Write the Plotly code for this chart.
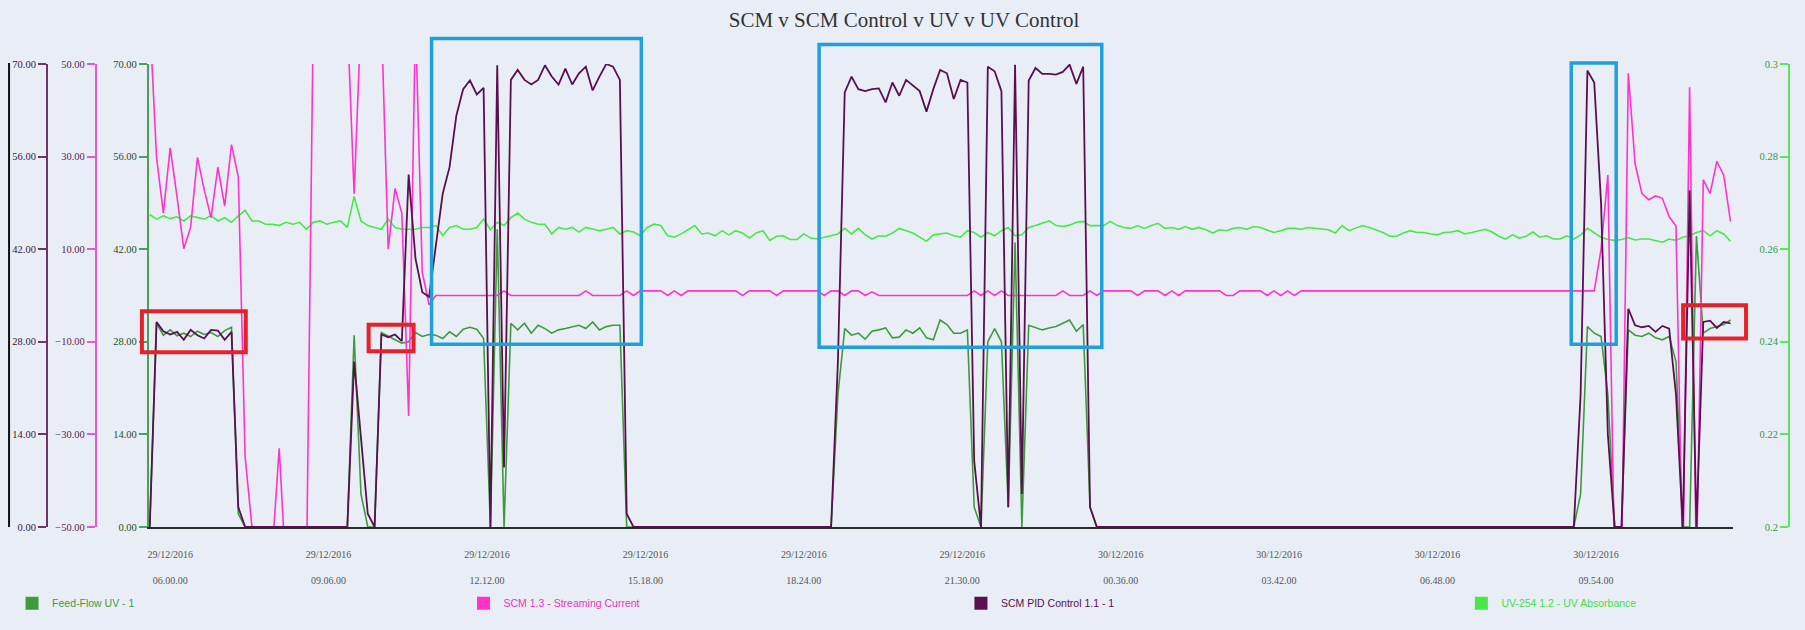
import pandas as pd
import plotly.graph_objects as go

# ---------------- data ----------------
START = "2016-12-29 05:36"
STEP_MIN = 8
N = 233

# SCM PID Control 1.1 - 1 (left purple axis 0..70)
pid = [
    0, 31.0, 29.6, 29.1, 29.5, 28.3, 29.8, 29.0, 28.5, 29.8,          # 0
    29.7, 28.3, 29.5, 3, 0, 0, 0, 0, 0, 0,                              # 10
    0, 0, 0, 0, 0, 0, 0, 0, 0, 0,                                       # 20
    25, 13, 2, 0, 29.1, 28.7, 29.1, 28.1, 53.3, 40.6,                   # 30
    35.5, 34.8, 43, 50.4, 54.4, 62.2, 66.2, 67.5, 65.4, 66.4,           # 40
    0, 69.8, 9, 67.6, 69.1, 67.6, 66.9, 67.6, 69.8, 68.1,               # 50
    66.9, 69.3, 66.9, 68.6, 69.6, 66.0, 68.1, 70.0, 69.6, 67.6,         # 60
    2, 0, 0, 0, 0, 0, 0, 0, 0, 0,                                       # 70
    0, 0, 0, 0, 0, 0, 0, 0, 0, 0,                                       # 80
    0, 0, 0, 0, 0, 0, 0, 0, 0, 0,                                       # 90
    0, 25, 65.7, 68.1, 66.2, 65.9, 66.2, 66.3, 64.2, 67.2,              # 100
    65.2, 67.6, 66.7, 65.9, 62.8, 66.2, 69.1, 68.6, 64.7, 67.6,         # 110
    67.2, 10, 0, 69.6, 68.9, 65.9, 3, 69.9, 5, 67.5,                    # 120
    69.4, 68.5, 68.5, 68.4, 68.8, 69.9, 67.0, 69.6, 3, 0,               # 130
    0, 0, 0, 0, 0, 0, 0, 0, 0, 0,                                       # 140
    0, 0, 0, 0, 0, 0, 0, 0, 0, 0,                                       # 150
    0, 0, 0, 0, 0, 0, 0, 0, 0, 0,                                       # 160
    0, 0, 0, 0, 0, 0, 0, 0, 0, 0,                                       # 170
    0, 0, 0, 0, 0, 0, 0, 0, 0, 0,                                       # 180
    0, 0, 0, 0, 0, 0, 0, 0, 0, 0,                                       # 190
    0, 0, 0, 0, 0, 0, 0, 0, 0, 0,                                       # 200
    20, 69.0, 67.2, 49, 14, 0, 0, 33.0, 30.5, 30.2,                     # 210
    30.4, 29.5, 30.4, 30.0, 20, 0, 50.9, 0, 31.0, 31.2,                 # 220
    30.1, 31.0, 30.8,                                                   # 230
]

# Feed-Flow UV - 1 (green axis 0..70)
feed = [
    0, 30.8, 29.0, 29.8, 28.9, 29.3, 28.8, 29.6, 29.1, 29.4,            # 0
    28.8, 29.7, 30.2, 2, 0, 0, 0, 0, 0, 0,                              # 10
    0, 0, 0, 0, 0, 0, 0, 0, 0, 0,                                       # 20
    29, 5, 0, 0, 29.4, 28.8, 28.3, 27.8, 28.0, 29.4,                    # 30
    28.8, 29.1, 29.0, 28.5, 29.5, 28.8, 29.9, 30.2, 29.9, 28.5,         # 40
    0, 45, 0, 30.8, 29.8, 30.8, 29.3, 30.5, 30.0, 29.3,                 # 50
    29.8, 30.0, 30.3, 30.5, 30.0, 31.0, 29.8, 30.3, 30.5, 30.5,         # 60
    0, 0, 0, 0, 0, 0, 0, 0, 0, 0,                                       # 70
    0, 0, 0, 0, 0, 0, 0, 0, 0, 0,                                       # 80
    0, 0, 0, 0, 0, 0, 0, 0, 0, 0,                                       # 90
    0, 20, 30.0, 29.0, 29.3, 28.4, 29.6, 29.8, 30.1, 28.6,              # 100
    28.7, 29.8, 29.3, 30.1, 28.6, 28.3, 31.3, 30.6, 29.3, 29.3,         # 110
    29.8, 3, 0, 28, 30.0, 28, 3, 43, 0, 30.5,                           # 120
    30.1, 29.8, 30.1, 30.3, 30.8, 31.3, 29.6, 30.6, 3, 0,               # 130
    0, 0, 0, 0, 0, 0, 0, 0, 0, 0,                                       # 140
    0, 0, 0, 0, 0, 0, 0, 0, 0, 0,                                       # 150
    0, 0, 0, 0, 0, 0, 0, 0, 0, 0,                                       # 160
    0, 0, 0, 0, 0, 0, 0, 0, 0, 0,                                       # 170
    0, 0, 0, 0, 0, 0, 0, 0, 0, 0,                                       # 180
    0, 0, 0, 0, 0, 0, 0, 0, 0, 0,                                       # 190
    0, 0, 0, 0, 0, 0, 0, 0, 0, 0,                                       # 200
    5, 30.3, 29.3, 28.8, 20, 0, 0, 29.8, 29.0, 28.8,                    # 210
    29.3, 28.6, 28.3, 28.8, 25, 0, 0, 44, 29.3, 30.0,                   # 220
    30.3, 30.6, 31.3,                                                   # 230
]

# SCM 1.3 - Streaming Current (pink axis -50..50)
scm = [
    60, 29.8, 17.8, 31.9, 21.4, 10.1, 14.7, 29.8, 22.8, 16.8,           # 0
    27.7, 19.3, 32.6, 25.6, -34.8, -50, -60, -60, -55, -33,             # 10
    -60, -60, -60, -60, 60, 60, 60, 60, 60, 60,                         # 20
    22, 60, 60, 60, 60, 10, 23.1, 17.8, -26, 60,                        # 30
    5, -2, 0, 0, 0, 0, 0, 0, 0, 0,                                      # 40
    0, 0, 1, 0, 0, 0, 0, 0, 0, 0,                                       # 50
    0, 0, 0, 0, 1, 0, 0, 0, 0, 0,                                       # 60
    1, 0, 1, 1, 1, 1, 0, 1, 0, 1,                                       # 70
    1, 1, 1, 1, 1, 1, 1, 0, 1, 1,                                       # 80
    1, 1, 0, 1, 1, 1, 1, 1, 1, 0,                                       # 90
    1, 1, 0, 1, 1, 0, 0.8, 0, 0, 0,                                     # 100
    0, 0, 0, 0, 0, 0, 0, 0, 0, 0,                                       # 110
    0, 1, 0, 1, 0, 1, 0, 0, 0, 0,                                       # 120
    0, 0, 0, 0, 1, 0, 0, 0, 1, 0,                                       # 130
    1, 1, 1, 1, 1, 0, 1, 1, 1, 0,                                       # 140
    1, 0, 1, 1, 1, 1, 1, 1, 0, 0,                                       # 150
    1, 1, 1, 1, 0, 1, 0, 1, 0, 1,                                       # 160
    1, 1, 1, 1, 1, 1, 1, 1, 1, 1,                                       # 170
    1, 1, 1, 1, 1, 1, 1, 1, 1, 1,                                       # 180
    1, 1, 1, 1, 1, 1, 1, 1, 1, 1,                                       # 190
    1, 1, 1, 1, 1, 1, 1, 1, 1, 1,                                       # 200
    1, 1, 1, 10, 26, -60, -60, 48, 28.4, 22,                            # 210
    20.7, 21.5, 21, 17, 15, -60, 45, -60, 25, 22,                       # 220
    29, 26, 16,                                                         # 230
]

# UV-254 1.2 - UV Absorbance (right axis 0.2..0.3)
uv = [
    0.2675, 0.2665, 0.2672, 0.2666, 0.2670, 0.2661, 0.2672, 0.2668, 0.2665, 0.2673,  # 0
    0.2661, 0.2668, 0.2658, 0.2672, 0.2684, 0.2661, 0.2661, 0.2654, 0.2654, 0.2651,  # 10
    0.2658, 0.2654, 0.2658, 0.2643, 0.2658, 0.2661, 0.2654, 0.2658, 0.2661, 0.2647,  # 20
    0.2714, 0.2661, 0.2651, 0.2647, 0.2643, 0.2665, 0.2647, 0.2643, 0.2643, 0.2643,  # 30
    0.2647, 0.2647, 0.2651, 0.2629, 0.2647, 0.2651, 0.2643, 0.2643, 0.2647, 0.2665,  # 40
    0.2642, 0.2658, 0.2651, 0.2668, 0.2678, 0.2665, 0.2658, 0.2654, 0.2654, 0.2633,  # 50
    0.2647, 0.2643, 0.2647, 0.2637, 0.2647, 0.2643, 0.2640, 0.2643, 0.2647, 0.2633,  # 60
    0.2640, 0.2637, 0.2629, 0.2647, 0.2654, 0.2651, 0.2629, 0.2626, 0.2633, 0.2642,  # 70
    0.2651, 0.2633, 0.2635, 0.2629, 0.2640, 0.2631, 0.2640, 0.2635, 0.2624, 0.2635,  # 80
    0.2640, 0.2619, 0.2628, 0.2629, 0.2621, 0.2621, 0.2633, 0.2624, 0.2622, 0.2626,  # 90
    0.2629, 0.2633, 0.2645, 0.2633, 0.2645, 0.2631, 0.2622, 0.2629, 0.2628, 0.2635,  # 100
    0.2645, 0.2640, 0.2635, 0.2626, 0.2617, 0.2631, 0.2633, 0.2635, 0.2629, 0.2626,  # 110
    0.2640, 0.2636, 0.2626, 0.2636, 0.2629, 0.2640, 0.2647, 0.2629, 0.2631, 0.2647,  # 120
    0.2651, 0.2656, 0.2661, 0.2651, 0.2649, 0.2652, 0.2658, 0.2660, 0.2651, 0.2651,  # 130
    0.2651, 0.2660, 0.2651, 0.2647, 0.2645, 0.2651, 0.2645, 0.2651, 0.2656, 0.2645,  # 140
    0.2647, 0.2643, 0.2649, 0.2643, 0.2647, 0.2642, 0.2635, 0.2642, 0.2640, 0.2645,  # 150
    0.2647, 0.2643, 0.2649, 0.2647, 0.2642, 0.2636, 0.2640, 0.2645, 0.2645, 0.2643,  # 160
    0.2647, 0.2645, 0.2643, 0.2642, 0.2635, 0.2651, 0.2640, 0.2645, 0.2651, 0.2647,  # 170
    0.2642, 0.2636, 0.2628, 0.2628, 0.2635, 0.2640, 0.2636, 0.2636, 0.2633, 0.2631,  # 180
    0.2636, 0.2637, 0.2640, 0.2633, 0.2636, 0.2640, 0.2643, 0.2637, 0.2628, 0.2622,  # 190
    0.2631, 0.2624, 0.2628, 0.2637, 0.2626, 0.2629, 0.2622, 0.2622, 0.2629, 0.2622,  # 200
    0.2631, 0.2645, 0.2635, 0.2626, 0.2621, 0.2619, 0.2621, 0.2625, 0.2620, 0.2622,  # 210
    0.2622, 0.2619, 0.2615, 0.2622, 0.2619, 0.2626, 0.2629, 0.2636, 0.2640, 0.2629,  # 220
    0.2640, 0.2633, 0.2617,                                                          # 230
]

tick_dates = ["29/12/2016"] * 6 + ["30/12/2016"] * 4
tick_times = ["06.00.00", "09.06.00", "12.12.00", "15.18.00", "18.24.00",
              "21.30.00", "00.36.00", "03.42.00", "06.48.00", "09.54.00"]
tick_stamps = ["2016-12-29 06:00", "2016-12-29 09:06", "2016-12-29 12:12",
               "2016-12-29 15:18", "2016-12-29 18:24", "2016-12-29 21:30",
               "2016-12-30 00:36", "2016-12-30 03:42", "2016-12-30 06:48",
               "2016-12-30 09:54"]

names = ["Feed-Flow UV - 1", "SCM 1.3 - Streaming Current",
         "SCM PID Control 1.1 - 1", "UV-254 1.2 - UV Absorbance"]
colors = ["#3c9c3c", "#ff33cc", "#5a0f4f", "#48e848"]
legend_text_colors = ["#3c9c3c", "#f030c0", "#5a0f4f", "#3fe03f"]

for arr in (pid, feed, scm, uv):
    assert len(arr) == N, len(arr)

times = pd.date_range(START, periods=N, freq=f"{STEP_MIN}min")

# ---------------- layout geometry ----------------
W, H = 1805, 630
ML, MR, MT, MB = 45, 16, 64, 92
PW = W - ML - MR
PH = H - MT - MB
BOTTOM = H - MB


def pxx(X):
    return (X - ML) / PW


def pxy(Y):
    return (BOTTOM - Y) / PH


BG = "#e9eef6"
SERIF = "Liberation Serif, Times New Roman, serif"
SANS = "Liberation Sans, Arial, sans-serif"

fig = go.Figure()

# data traces (layer order: feed, uv, scm, pid)
fig.add_trace(go.Scatter(x=times, y=feed, mode="lines", yaxis="y",
                         line=dict(color=colors[0], width=1.6),
                         showlegend=False, name=names[0]))
fig.add_trace(go.Scatter(x=times, y=uv, mode="lines", yaxis="y2",
                         line=dict(color=colors[3], width=1.6),
                         showlegend=False, name=names[3]))
fig.add_trace(go.Scatter(x=times, y=scm, mode="lines", yaxis="y3",
                         line=dict(color=colors[1], width=1.6),
                         showlegend=False, name=names[1]))
fig.add_trace(go.Scatter(x=times, y=pid, mode="lines", yaxis="y4",
                         line=dict(color=colors[2], width=1.8),
                         showlegend=False, name=names[2]))

# legend entries (square swatches), one legend per entry
legend_ids = ["legend", "legend2", "legend3", "legend4"]
for nm, c, lid in zip(names, colors, legend_ids):
    fig.add_trace(go.Scatter(x=[None], y=[None], mode="markers", name=nm,
                             marker=dict(symbol="square", size=13, color=c),
                             legend=lid, showlegend=True, hoverinfo="skip"))

legend_x_px = [10, 462, 960, 1461]
legends = {}
for lid, xp, tc in zip(legend_ids, legend_x_px, legend_text_colors):
    legends[lid] = dict(x=pxx(xp), y=pxy(616), xanchor="left", yanchor="middle",
                        bgcolor="rgba(0,0,0,0)", orientation="h",
                        font=dict(family=SANS, size=10.5, color=tc))


def yax(**kw):
    base = dict(showgrid=False, zeroline=False, showline=True, linewidth=2,
                ticks="outside", ticklen=8, tickwidth=1.5, automargin=False,
                tickfont=dict(family=SERIF, size=10.5))
    base.update(kw)
    return base


fig.update_layout(
    width=W, height=H,
    margin=dict(l=ML, r=MR, t=MT, b=MB),
    paper_bgcolor=BG, plot_bgcolor=BG,
    title=dict(text="SCM v SCM Control v UV v UV Control",
               font=dict(family=SERIF, size=21, color="#333333"),
               x=904 / W, xanchor="center", xref="container",
               y=1 - 20 / H, yanchor="middle", yref="container"),
    xaxis=dict(type="date", domain=[pxx(147), pxx(1733)],
               range=["2016-12-29 05:35", "2016-12-30 12:35"],
               tickmode="array", tickvals=tick_stamps,
               ticktext=[f"{d}<br><br>{t}" for d, t in zip(tick_dates, tick_times)],
               tickfont=dict(family=SERIF, size=10, color="#555555"),
               ticks="outside", ticklen=17, tickcolor="rgba(0,0,0,0)",
               showgrid=False, zeroline=False, showline=True,
               linecolor="#2a2a2a", linewidth=2),
    yaxis=yax(range=[0, 70], tickmode="array", tickvals=[0, 14, 28, 42, 56, 70],
              tickformat=".2f", linecolor="#4c9f58", tickcolor="#4c9f58",
              tickfont=dict(family=SERIF, size=10.5, color="#1e4d28"),
              anchor="x", side="left"),
    yaxis2=yax(range=[0.2, 0.3], tickmode="array",
               tickvals=[0.2, 0.22, 0.24, 0.26, 0.28, 0.3],
               ticktext=["0.2", "0.22", "0.24", "0.26", "0.28", "0.3"],
               linecolor="#5ee35e", tickcolor="#5ee35e",
               tickfont=dict(family=SERIF, size=10.5, color="#2f9a3a"),
               overlaying="y", anchor="free", position=1.0, side="left"),
    yaxis3=yax(range=[-50, 50], tickmode="array",
               tickvals=[-50, -30, -10, 10, 30, 50], tickformat=".2f",
               linecolor="#e25bd6", tickcolor="#e25bd6",
               tickfont=dict(family=SERIF, size=10.5, color="#5e1a54"),
               overlaying="y", anchor="free", position=pxx(94), side="left"),
    yaxis4=yax(range=[0, 70], tickmode="array", tickvals=[0, 14, 28, 42, 56, 70],
               tickformat=".2f", linecolor="#6e3465", tickcolor="#6e3465",
               tickfont=dict(family=SERIF, size=10.5, color="#3a1535"),
               overlaying="y", anchor="free", position=0.0, side="left"),
    **legends,
)

# annotation boxes drawn over the chart (red / blue rectangles)
boxes = [
    ((140, 317, 244, 359), "#e3222a", 4),
    ((367, 331, 412, 358), "#e3222a", 4),
    ((1683, 311, 1746, 345), "#e3222a", 4),
    ((430, 38, 640, 351), "#1fa0dc", 3.5),
    ((818, 44, 1101, 354), "#1fa0dc", 3.5),
    ((1571, 63, 1616, 351), "#1fa0dc", 3.5),
]
for (x0, y0, x1, y1), c, w in boxes:
    fig.add_shape(type="rect", xref="paper", yref="paper",
                  x0=pxx(x0), x1=pxx(x1), y0=pxy(y1), y1=pxy(y0),
                  line=dict(color=c, width=w), fillcolor="rgba(0,0,0,0)",
                  layer="above")

# thin dark frame line at the far left edge
fig.add_shape(type="line", xref="paper", yref="paper",
              x0=pxx(7), x1=pxx(7), y0=pxy(538), y1=pxy(63),
              line=dict(color="#111111", width=2))

fig.write_html("out.html")
